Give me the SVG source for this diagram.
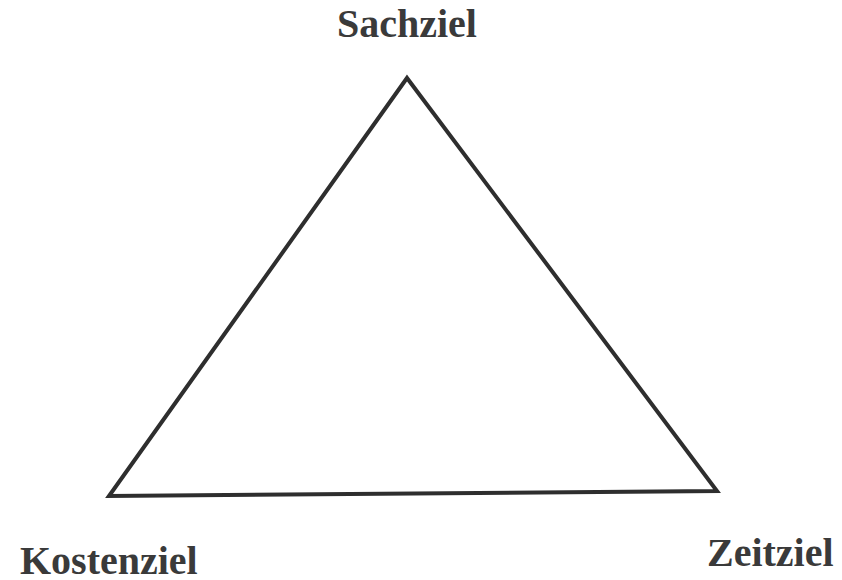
<svg xmlns="http://www.w3.org/2000/svg" width="842" height="580" viewBox="0 0 842 580">
<style>
.lbl{font-family:"Liberation Serif","Times New Roman",serif;font-weight:bold;font-size:40px;fill:#3a3a3a}
.edge{fill:none;stroke:#2e2e2e;stroke-width:4;stroke-linejoin:miter}
</style>
<rect width="842" height="580" fill="#ffffff"/>
<g id="connectors">
<polygon class="edge" points="407,78 717,491 109,496"/>
</g>
<g id="sachziel"><text class="lbl" x="407" y="37" text-anchor="middle">Sachziel</text></g>
<g id="kostenziel"><text class="lbl" x="20" y="574">Kostenziel</text></g>
<g id="zeitziel"><text class="lbl" x="707" y="566">Zeitziel</text></g>
</svg>
